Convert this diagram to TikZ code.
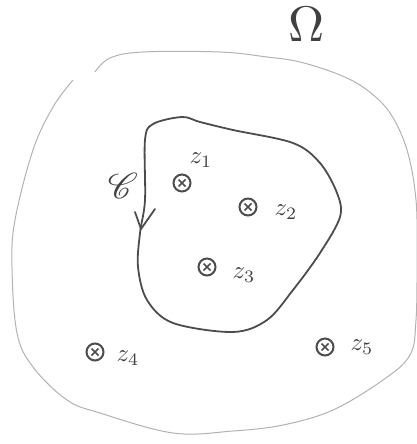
\documentclass[tikz,border=0pt]{standalone}
\usepackage{graphicx}
\usepackage{mathrsfs}
\begin{document}
\begin{tikzpicture}[x=1pt,y=-1pt,
  outer/.style={draw=black!30,line width=1pt},
  inner/.style={draw=black!70,line width=1.8pt,line join=round},
  ptmark/.style={circle,draw=black!70,line width=2pt,minimum size=17pt,inner sep=0pt,
    path picture={\draw[black!70,line width=1.5pt]
      (path picture bounding box.south west)++(5pt,5pt) -- ++(7pt,7pt)
      (path picture bounding box.north west)++(5pt,-5pt) -- ++(7pt,-7pt);}},
  lab/.style={text=black!75}]
\useasboundingbox (0,0) rectangle (417,444);
% outer region Omega
\draw[outer] plot[smooth,tension=0.6] coordinates {
  (95,72) (110,58) (143,52) (220,52) (267,57) (300,62) (340,75) (367,90) (390,113)
  (407,150) (416,200) (417,260) (416,320) (410,355) (383,380) (333,410) (283,425)
  (233,431) (173,433) (100,413) (67,400) (33,367) (17,333) (12,267) (15,220)
  (33,150) (53,107) (73,80)};
% inner contour
\draw[inner] plot[smooth cycle,tension=0.55] coordinates {
  (182,117) (153,124) (145,140) (145,200) (140,233) (138,267) (147,300) (173,323)
  (233,332) (267,320) (293,290) (320,253) (340,217) (337,193) (320,163) (293,143)
  (233,130) (200,122)};
\coordinate (tip) at (141,229);
\draw[inner,line cap=round] (135,212) -- (tip) -- (155,209);
\node[lab] (C) at (123,186) {\scalebox{3.6}{$\mathscr{C}$}};
\node[lab] (Om) at (307,24) {\scalebox{5}{$\Omega$}};
% points
\node[ptmark] (p1) at (182,183) {};
\node[ptmark] (p2) at (248,207) {};
\node[ptmark] (p3) at (207,267) {};
\node[ptmark] (p4) at (95,352) {};
\node[ptmark] (p5) at (325,347) {};
\node[lab] (z1) at (201,160) {\scalebox{2.5}{$z_1$}};
\node[lab] (z2) at (286,212) {\scalebox{2.5}{$z_2$}};
\node[lab] (z3) at (244,275) {\scalebox{2.5}{$z_3$}};
\node[lab] (z4) at (128,358) {\scalebox{2.5}{$z_4$}};
\node[lab] (z5) at (362,347) {\scalebox{2.5}{$z_5$}};
\end{tikzpicture}
\end{document}
